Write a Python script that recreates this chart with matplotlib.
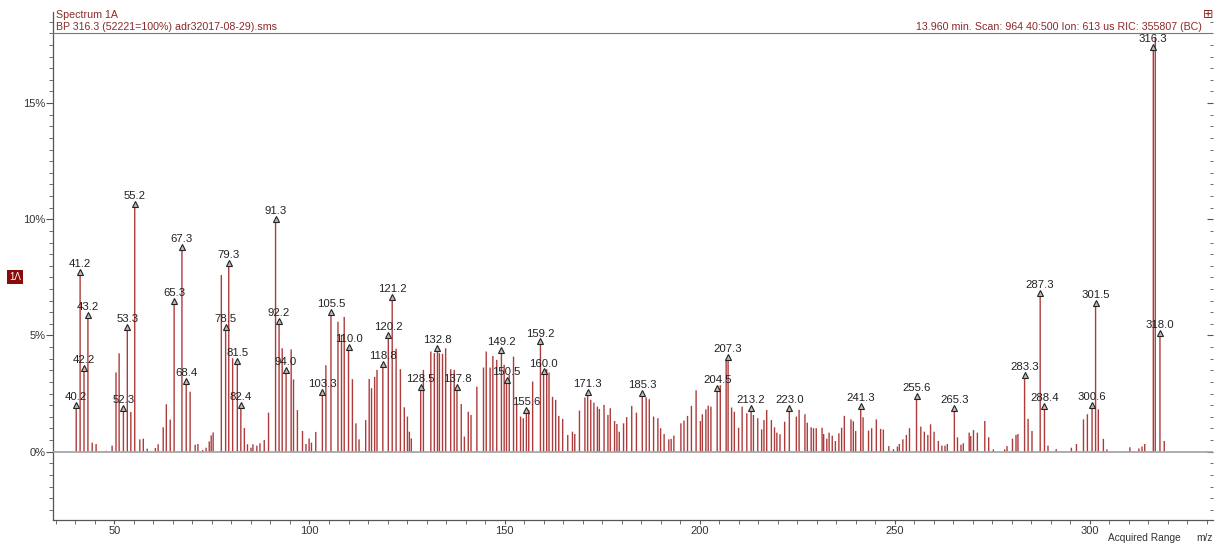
import matplotlib
matplotlib.use("Agg")
import matplotlib.pyplot as plt
from matplotlib.ticker import MultipleLocator, FuncFormatter
from matplotlib.transforms import offset_copy

# peak list: m/z and intensity (% axis)
mz = [40.2, 41.2, 42.2, 43.2, 44.3, 45.3, 47.9, 49.4, 50.4, 51.2, 52.3, 53.3, 54.2, 55.2,
      56.5, 57.4, 58.4, 60.5, 61.2, 62.5, 63.3, 64.3, 65.3, 67.3, 68.4, 69.4, 70.7, 71.4,
      72.6, 73.5, 74.3, 74.8, 75.3, 77.4, 78.5, 79.3, 80.3, 81.5, 82.4, 83.3, 84.1, 85.0,
      85.5, 86.5, 87.3, 88.4, 89.5, 91.3, 92.2, 93.0, 94.0, 95.3, 95.9, 96.9, 98.2, 99.1,
      99.9, 100.5, 101.6, 103.3, 104.2, 105.5, 107.3, 108.2, 108.9, 110.0, 111.0, 111.9,
      112.7, 114.4, 115.3, 115.9, 116.7, 117.3, 118.8, 120.2, 121.2, 122.2, 123.3, 124.3,
      125.1, 125.6, 126.1, 128.5, 129.2, 131.1, 132.0, 132.8, 133.3, 134.1, 134.9, 136.2,
      137.1, 137.8, 138.9, 139.7, 140.7, 141.4, 142.9, 144.6, 145.3, 146.3, 147.0, 148.0,
      149.2, 149.9, 150.5, 151.2, 152.3, 153.1, 154.1, 154.8, 155.6, 156.2, 157.2, 159.2,
      160.0, 160.8, 161.4, 162.3, 163.1, 163.9, 164.9, 166.2, 167.4, 168.0, 169.2, 170.6,
      171.3, 172.1, 172.9, 173.8, 174.3, 175.5, 176.5, 177.1, 178.2, 178.8, 179.4, 180.5,
      181.3, 182.6, 183.8, 185.3, 186.3, 187.1, 188.2, 189.3, 190.0, 190.9, 192.1, 192.7,
      193.4, 195.2, 196.0, 196.9, 197.9, 199.1, 200.2, 200.7, 201.6, 202.2, 202.9, 204.5,
      205.3, 206.8, 207.3, 208.2, 208.9, 210.0, 210.9, 212.1, 213.2, 213.8, 214.9, 215.9,
      216.5, 217.2, 218.4, 219.2, 219.8, 220.6, 221.8, 223.0, 224.8, 225.5, 227.0, 227.6,
      228.6, 229.2, 229.9, 231.4, 231.8, 232.6, 233.2, 234.0, 234.8, 235.7, 236.4, 237.1,
      238.8, 239.4, 240.0, 241.3, 241.9, 243.3, 244.1, 245.3, 246.4, 247.1, 248.5, 249.7,
      250.7, 251.2, 252.1, 253.0, 253.8, 255.6, 256.7, 257.6, 258.5, 259.2, 260.1, 261.2,
      262.1, 262.9, 263.5, 265.3, 266.1, 267.0, 267.6, 269.1, 269.5, 270.2, 271.2, 273.1,
      274.1, 275.3, 278.2, 278.8, 280.2, 281.1, 281.6, 283.3, 284.2, 285.2, 287.3, 288.4,
      289.3, 291.4, 295.3, 296.6, 298.4, 299.4, 300.6, 301.5, 302.2, 303.5, 304.4, 310.3,
      312.6, 313.4, 314.1, 316.3, 316.8, 318.0, 319.1]
intensity = [1.94, 7.68, 3.54, 5.81, 0.39, 0.33, 0.04, 0.26, 3.41, 4.23, 1.79, 5.28, 1.71, 10.6,
             0.53, 0.56, 0.13, 0.16, 0.32, 1.05, 2.04, 1.38, 6.41, 8.75, 2.97, 2.58, 0.30, 0.33,
             0.07, 0.17, 0.44, 0.70, 0.83, 7.60, 5.28, 8.06, 4.02, 3.83, 1.94, 1.02, 0.32, 0.17,
             0.32, 0.26, 0.36, 0.50, 1.68, 9.95, 5.55, 4.45, 3.44, 4.40, 3.11, 1.79, 0.89, 0.33,
             0.57, 0.39, 0.85, 2.51, 3.72, 5.96, 5.59, 5.03, 5.80, 4.45, 3.12, 1.22,
             0.53, 1.36, 3.13, 2.73, 3.22, 3.52, 3.72, 4.96, 6.57, 4.43, 3.55, 1.91,
             1.51, 0.86, 0.57, 2.73, 3.52, 4.31, 4.24, 4.38, 4.24, 4.21, 4.45, 3.55,
             3.52, 2.73, 2.05, 0.65, 1.72, 1.58, 2.80, 3.62, 4.31, 3.62, 4.12, 3.95,
             4.31, 3.74, 3.02, 3.30, 4.09, 2.08, 1.51, 1.44, 1.72, 1.80, 3.02, 4.67,
             3.38, 3.55, 3.40, 2.36, 2.23, 1.54, 1.41, 0.72, 0.86, 0.76, 1.77, 2.33,
             2.49, 2.23, 2.11, 1.94, 1.84, 2.01, 1.58, 1.87, 1.32, 1.19, 0.86, 1.22,
             1.49, 1.97, 1.68, 2.44, 2.34, 2.26, 1.51, 1.44, 1.01, 0.76, 0.53, 0.55,
             0.69, 1.22, 1.34, 1.54, 1.97, 2.64, 1.32, 1.61, 1.82, 1.98, 1.94, 2.66,
             2.86, 3.95, 4.02, 1.90, 1.72, 1.03, 1.94, 1.65, 1.82, 1.58, 1.44, 0.96,
             1.36, 1.80, 1.36, 1.05, 0.82, 0.75, 1.29, 1.82, 1.51, 1.80, 1.61, 1.25,
             1.05, 1.01, 1.01, 1.03, 0.76, 0.56, 0.82, 0.69, 0.46, 0.79, 1.03, 1.54,
             1.39, 1.31, 0.89, 1.90, 1.48, 0.91, 1.01, 1.39, 0.98, 0.95, 0.24, 0.11,
             0.22, 0.33, 0.53, 0.72, 1.01, 2.34, 1.08, 0.86, 0.72, 1.18, 0.86, 0.46,
             0.26, 0.26, 0.33, 1.80, 0.62, 0.30, 0.36, 0.82, 0.67, 0.93, 0.82, 1.32,
             0.62, 0.10, 0.10, 0.24, 0.56, 0.72, 0.76, 3.23, 1.41, 0.89, 6.75, 1.90,
             0.26, 0.11, 0.17, 0.33, 1.39, 1.61, 1.94, 6.32, 1.82, 0.55, 0.10, 0.19,
             0.14, 0.22, 0.33, 17.36, 17.85, 5.03, 0.46]

labeled = [40.2, 41.2, 42.2, 43.2, 52.3, 53.3, 55.2, 65.3, 67.3, 68.4, 78.5, 79.3, 81.5, 82.4,
           91.3, 92.2, 94.0, 103.3, 105.5, 110.0, 118.8, 120.2, 121.2, 128.5, 132.8, 137.8,
           149.2, 150.5, 155.6, 159.2, 160.0, 171.3, 185.3, 204.5, 207.3, 213.2, 223.0, 241.3,
           255.6, 265.3, 283.3, 287.3, 288.4, 300.6, 301.5, 316.3, 318.0]

title_left = "Spectrum 1A"
title_sub = "BP 316.3 (52221=100%) adr32017-08-29).sms"
title_right = "13.960 min. Scan: 964 40:500 Ion: 613 us RIC: 355807 (BC)"

plt.rcParams['font.family'] = ['Liberation Sans', 'DejaVu Sans']

W, H = 1215, 544
fig = plt.figure(figsize=(W / 100, H / 100), dpi=100)
ax = fig.add_axes([53 / W, 1 - 520 / H, (1213 - 53) / W, (520 - 12) / H])
ax.set_xlim(34.25, 331.6)
ax.set_ylim(-2.94, 18.92)

ax.vlines(mz, 0, intensity, colors='#ad3b3b', linewidth=1.0, snap=False, zorder=2)
ax.axhline(0, color='#a0a0a0', lw=1.2, zorder=3)
ax.axhline(18.0, color='#777777', lw=0.8, zorder=3)

heights = dict(zip(mz, intensity))
lab_y = [heights[m] for m in labeled]
tri = offset_copy(ax.transData, fig=fig, y=1.2, units='points')
ax.plot(labeled, lab_y, ls='none', marker='^', ms=3.8, mfc='#bbbbbb', mec='#222222',
        mew=0.8, transform=tri, zorder=4)
for m, h in zip(labeled, lab_y):
    ax.annotate(f"{m:.1f}", (m, h), xytext=(0, 3.3), textcoords='offset points',
                ha='center', va='bottom', fontsize=8.2, color='#222222', zorder=5)

for s in ['top', 'right']:
    ax.spines[s].set_visible(False)
for s in ['left', 'bottom']:
    ax.spines[s].set_color('#555555')
    ax.spines[s].set_linewidth(0.9)

ax.xaxis.set_major_locator(MultipleLocator(50))
ax.xaxis.set_minor_locator(MultipleLocator(5))
ax.yaxis.set_major_locator(MultipleLocator(5))
ax.yaxis.set_minor_locator(MultipleLocator(0.5))
ax.yaxis.set_major_formatter(FuncFormatter(lambda v, p: f"{v:.0f}%"))
ax.tick_params(axis='both', which='both', colors='#555555', labelcolor='#333333',
               labelsize=8.0, direction='out')
ax.tick_params(axis='y', which='major', length=5, pad=0.5)
ax.tick_params(axis='y', which='minor', length=3.2)
ax.tick_params(axis='x', which='both', length=3, pad=1.5)

sec = ax.secondary_yaxis('right')
sec.spines['right'].set_visible(False)
sec.yaxis.set_major_locator(MultipleLocator(5))
sec.yaxis.set_minor_locator(MultipleLocator(0.5))
sec.tick_params(axis='y', which='both', direction='in', labelright=False, colors='#555555')
sec.tick_params(axis='y', which='major', length=4.5)
sec.tick_params(axis='y', which='minor', length=2.5)

hdr = '#8b2a2a'
fig.text(56 / W, 1 - 15 / H, title_left, color=hdr, fontsize=7.7, va='center', ha='left')
fig.text(56 / W, 1 - 27 / H, title_sub, color=hdr, fontsize=7.7, va='center', ha='left')
fig.text(1202 / W, 1 - 27 / H, title_right, color=hdr, fontsize=7.7, va='center', ha='right')
fig.text(1208 / W, 1 - 15 / H, '\u229e', color=hdr, fontsize=9, va='center', ha='center',
         family=['DejaVu Sans'])

fig.text(15 / W, 1 - 277 / H, "1\u039b", color='white', fontsize=7, va='center',
         ha='center', bbox=dict(boxstyle='square,pad=0.25', fc='#8b0a0a', ec='none'))

fig.text(1108 / W, 1 - 538 / H, "Acquired Range", color='#333333', fontsize=7.3, va='center')
fig.text(1196 / W, 1 - 538 / H, "m/z", color='#333333', fontsize=7.3, va='center')

fig.savefig("out.png", dpi=100)
